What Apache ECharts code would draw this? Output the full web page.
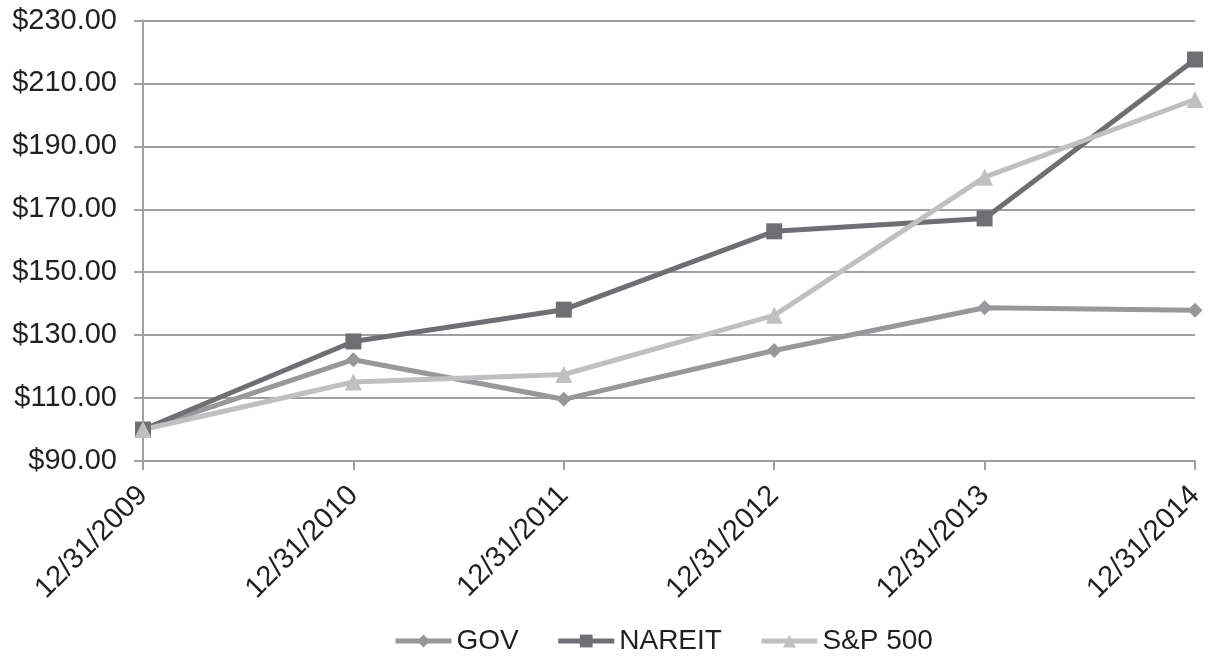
<!DOCTYPE html>
<html>
<head>
<meta charset="utf-8">
<script src="https://cdn.jsdelivr.net/npm/echarts@6/dist/echarts.min.js"></script>
<style>
  html, body { margin: 0; padding: 0; background: #fff; }
  #chart { width: 1208px; height: 661px; }
</style>
</head>
<body>
<div id="chart"></div>
<script>
// Year-end dates and growth of $100 for each index
const dates = ['12/31/2009', '12/31/2010', '12/31/2011', '12/31/2012', '12/31/2013', '12/31/2014'];
const gov = [100, 122.2, 109.6, 125.1, 138.7, 137.9];
const nareit = [100, 128.0, 138.1, 163.0, 167.1, 217.6];
const sp500 = [100, 115.1, 117.5, 136.3, 180.2, 204.9];

const FONT = '"Liberation Sans", Arial, sans-serif';
const AXIS_GREY = '#a0a0a3';
const TEXT = '#231f20';

const chart = echarts.init(document.getElementById('chart'), null, { renderer: 'canvas' });

function lineSeries(name, data, color, symbol, size) {
  return {
    name: name,
    type: 'line',
    data: data,
    symbol: symbol,
    symbolSize: size,
    showAllSymbol: true,
    lineStyle: { color: color, width: 5 },
    itemStyle: { color: color },
    emphasis: { disabled: true },
    z: 3
  };
}

chart.setOption({
  animation: false,
  textStyle: { fontFamily: FONT },
  grid: { left: 143, right: 13, top: 20.5, bottom: 200, containLabel: false },
  legend: {
    top: 627,
    left: 393,
    padding: 0,
    itemWidth: 56,
    itemHeight: 16,
    itemGap: 37,
    lineStyle: { width: 5 },
    textStyle: { fontSize: 28, color: TEXT, fontFamily: FONT },
    data: ['GOV', 'NAREIT', 'S&P 500']
  },
  xAxis: {
    type: 'category',
    data: dates,
    boundaryGap: false,
    axisLine: { lineStyle: { color: AXIS_GREY, width: 2 } },
    axisTick: { show: true, alignWithLabel: true, length: 9, lineStyle: { color: AXIS_GREY, width: 2 } },
    axisLabel: {
      rotate: 45,
      interval: 0,
      margin: 30,
      fontSize: 29,
      color: TEXT,
      fontFamily: FONT
    },
    splitLine: { show: false }
  },
  yAxis: {
    type: 'value',
    min: 90,
    max: 230,
    interval: 20,
    axisLine: { show: true, lineStyle: { color: AXIS_GREY, width: 2 } },
    axisTick: { show: true, length: 9, lineStyle: { color: AXIS_GREY, width: 2 } },
    axisLabel: {
      margin: 26,
      fontSize: 29,
      color: TEXT,
      fontFamily: FONT,
      formatter: v => '$' + v.toFixed(2)
    },
    splitLine: { show: true, lineStyle: { color: AXIS_GREY, width: 2 } }
  },
  series: [
    lineSeries('GOV', gov, '#98989b', 'diamond', 15),
    lineSeries('NAREIT', nareit, '#6f6f73', 'rect', 16),
    lineSeries('S&P 500', sp500, '#c0c0c2', 'triangle', 17)
  ]
});
</script>
</body>
</html>
